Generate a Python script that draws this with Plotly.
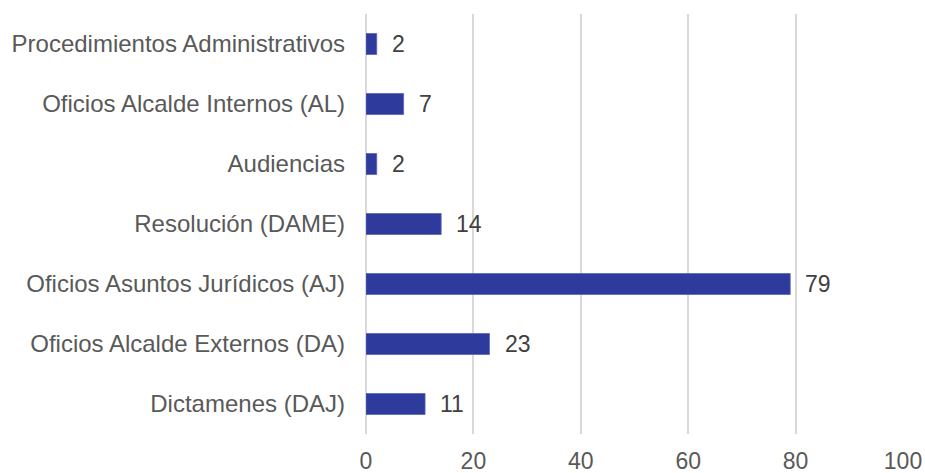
import plotly.graph_objects as go

categories = ["Dictamenes (DAJ)", "Oficios Alcalde Externos (DA)", "Oficios Asuntos Jurídicos (AJ)",
              "Resolución (DAME)", "Audiencias", "Oficios Alcalde Internos (AL)",
              "Procedimientos Administrativos"]
values = [11, 23, 79, 14, 2, 7, 2]
x_ticks = [0, 20, 40, 60, 80, 100]

fig = go.Figure()
fig.add_trace(go.Bar(
    y=categories, x=values, orientation="h", width=0.35,
    marker=dict(color="#2E3A9C", line=dict(color="#5A64B8", width=0.8)),
    hoverinfo="x+y",
))
for c, v in zip(categories, values):
    fig.add_annotation(x=v, y=c, text=str(v), showarrow=False, xanchor="left",
                       xshift=13, font=dict(family="Liberation Sans, Arial", size=23, color="#404040"))

fig.update_layout(
    width=925, height=473,
    margin=dict(l=366, r=22, t=14, b=39),
    paper_bgcolor="white", plot_bgcolor="white",
    showlegend=False,
    font=dict(family="Liberation Sans, Arial", color="#595959"),
    xaxis=dict(range=[0, 100], tickvals=x_ticks, showgrid=True, gridcolor="#D9D9D9", gridwidth=1.5,
               zeroline=True, zerolinecolor="#D9D9D9", zerolinewidth=1.5, automargin=False,
               tickfont=dict(size=23, color="#595959"), ticklabelstandoff=11, showline=False),
    yaxis=dict(tickfont=dict(size=24, color="#595959"), ticklabelstandoff=20, showgrid=False,
               showline=False, zeroline=False, automargin=False),
)
fig.write_html("out.html", config={"displayModeBar": False},
               post_script="document.body.style.margin='0';document.body.style.overflow='hidden';")
